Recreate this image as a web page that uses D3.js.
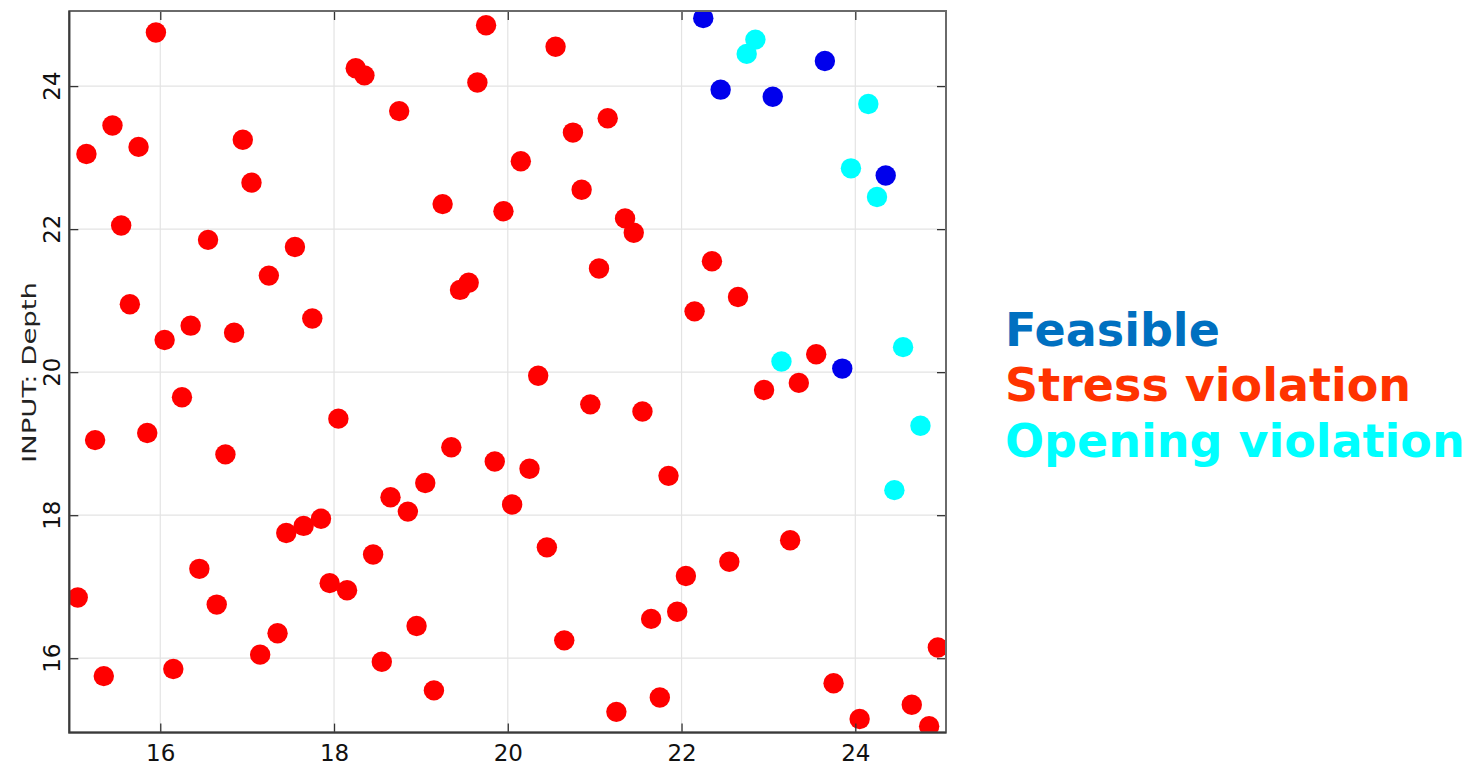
<!DOCTYPE html>
<html>
<head>
<meta charset="utf-8">
<script src="https://cdn.jsdelivr.net/npm/d3@7"></script>
<style>
  html, body { margin: 0; padding: 0; background: #fff; }
  svg { display: block; }
</style>
</head>
<body>
<svg id="chart" width="1477" height="765"></svg>
<script>
// Design samples, grouped by outcome
const stressX = [15.95,15.15,15.45,15.75,15.55,15.65,16.05,16.35,16.25,16.55,16.95,17.05,17.25,17.55,16.85,17.75,18.25,18.35,18.75,19.25,19.45,19.55,19.65,19.75,20.55,20.15,19.95,20.75,21.15,20.85,21.35,21.45,21.05,20.35,22.15,22.35,22.65,22.95,23.35,23.55,
  15.25,15.85,16.75,18.05,19.35,19.05,18.65,18.85,17.85,17.65,17.45,18.45,16.45,17.95,18.15,15.05,16.65,17.35,17.15,18.95,16.15,18.55,15.35,19.15,
  20.95,21.55,19.85,20.25,21.85,20.05,20.45,23.25,22.55,22.05,21.65,21.95,20.65,24.95,23.75,21.75,21.25,24.65,24.05,24.85];
const stressY = [24.75,23.05,23.45,23.15,22.05,20.95,20.45,20.65,19.65,21.85,23.25,22.65,21.35,21.75,20.55,20.75,24.25,24.15,23.65,22.35,21.15,21.25,24.05,24.85,24.55,22.95,22.25,23.35,23.55,22.55,22.15,21.95,21.45,19.95,20.85,21.55,21.05,19.75,19.85,20.25,
  19.05,19.15,18.85,19.35,18.95,18.45,18.25,18.05,17.95,17.85,17.75,17.45,17.25,17.05,16.95,16.85,16.75,16.35,16.05,16.45,15.85,15.95,15.75,15.55,
  19.55,19.45,18.75,18.65,18.55,18.15,17.55,17.65,17.35,17.15,16.55,16.65,16.25,16.15,15.65,15.45,15.25,15.35,15.15,15.05];
const feasibleX = [22.25,23.65,22.45,23.05,24.35,23.85];
const feasibleY = [24.95,24.35,23.95,23.85,22.75,20.05];
const openingX = [22.85,22.75,24.15,23.95,24.25,24.55,23.15,24.75,24.45];
const openingY = [24.65,24.45,23.75,22.85,22.45,20.35,20.15,19.25,18.35];

const xTicks = [16, 18, 20, 22, 24];
const yTicks = [16, 18, 20, 22, 24];
const yLabel = "INPUT: Depth";
const legendLabels = ["Feasible", "Stress violation", "Opening violation"];
const legendColors = ["#0070c0", "#ff3300", "#00ffff"];

const series = [
  { xs: stressX, ys: stressY, color: "#ff0000" },
  { xs: feasibleX, ys: feasibleY, color: "#0000ec" },
  { xs: openingX, ys: openingY, color: "#00ffff" }
];

const svg = d3.select("#chart");
const plotL = 69.3, plotR = 946, plotT = 11, plotB = 732.6;

const x = d3.scaleLinear().domain([14.953, 25.044]).range([plotL, plotR]);
const y = d3.scaleLinear().domain([14.96, 25.05]).range([plotB, plotT]);

svg.append("defs").append("clipPath").attr("id", "plotClip")
  .append("rect").attr("x", plotL).attr("y", plotT)
  .attr("width", plotR - plotL).attr("height", plotB - plotT);

// grid
const grid = svg.append("g");
grid.selectAll("line.gx").data(xTicks).enter().append("line")
  .attr("x1", d => x(d)).attr("x2", d => x(d))
  .attr("y1", plotT).attr("y2", plotB)
  .attr("stroke", "#e3e3e3").attr("stroke-width", 1.2);
grid.selectAll("line.gy").data(yTicks).enter().append("line")
  .attr("y1", d => y(d)).attr("y2", d => y(d))
  .attr("x1", plotL).attr("x2", plotR)
  .attr("stroke", "#e3e3e3").attr("stroke-width", 1.2);

// points
const pts = svg.append("g").attr("clip-path", "url(#plotClip)");
series.forEach(s => {
  pts.append("g").selectAll("circle").data(d3.range(s.xs.length)).enter().append("circle")
    .attr("cx", i => x(s.xs[i])).attr("cy", i => y(s.ys[i]))
    .attr("r", 10.2).attr("fill", s.color);
});

// axes with inward ticks on all four sides
const tickLen = 9;
const axisFont = "'DejaVu Sans', Verdana, sans-serif";
const bottomAxis = svg.append("g").attr("transform", `translate(0,${plotB})`)
  .call(d3.axisBottom(x).tickValues(xTicks).tickSizeInner(-tickLen).tickSizeOuter(0).tickPadding(12));
const topAxis = svg.append("g").attr("transform", `translate(0,${plotT})`)
  .call(d3.axisTop(x).tickValues(xTicks).tickSizeInner(-tickLen).tickSizeOuter(0).tickFormat(""));
const leftAxis = svg.append("g").attr("transform", `translate(${plotL},0)`)
  .call(d3.axisLeft(y).tickValues(yTicks).tickSizeInner(-tickLen).tickSizeOuter(0).tickFormat(""));
const rightAxis = svg.append("g").attr("transform", `translate(${plotR},0)`)
  .call(d3.axisRight(y).tickValues(yTicks).tickSizeInner(-tickLen).tickSizeOuter(0).tickFormat(""));

[bottomAxis, topAxis, leftAxis, rightAxis].forEach(a => {
  a.select(".domain").remove();
  a.selectAll(".tick line").attr("stroke", "#333").attr("stroke-width", 1.3);
});
bottomAxis.selectAll(".tick text")
  .attr("font-family", axisFont).attr("font-size", 23).attr("fill", "#111")
  .attr("dy", "0.71em");

// rotated y tick labels
svg.append("g").selectAll("text").data(yTicks).enter().append("text")
  .attr("transform", d => `translate(59.5,${y(d)}) rotate(-90)`)
  .attr("text-anchor", "middle")
  .attr("font-family", axisFont).attr("font-size", 23).attr("fill", "#111")
  .text(d => d);

// frame
svg.append("rect").attr("x", plotL).attr("y", plotT)
  .attr("width", plotR - plotL).attr("height", plotB - plotT)
  .attr("fill", "none").attr("stroke", "#6a6a6a").attr("stroke-width", 2);
svg.append("path")
  .attr("d", `M${plotL},${plotT}V${plotB}H${plotR}`)
  .attr("fill", "none").attr("stroke", "#3a3a3a").attr("stroke-width", 2);

// y axis title
svg.append("text")
  .attr("transform", `translate(36,372.5) rotate(-90)`)
  .attr("text-anchor", "middle")
  .attr("font-family", axisFont).attr("font-size", 19).attr("fill", "#222")
  .attr("textLength", 181).attr("lengthAdjust", "spacingAndGlyphs")
  .text(yLabel);

// legend as coloured words
svg.append("g").selectAll("text").data(legendLabels).enter().append("text")
  .attr("x", 1005).attr("y", (d, i) => 346 + i * 55.3)
  .attr("font-family", "'DejaVu Sans', Verdana, sans-serif")
  .attr("font-weight", "bold").attr("font-size", 46)
  .attr("fill", (d, i) => legendColors[i])
  .text(d => d);
</script>
</body>
</html>
